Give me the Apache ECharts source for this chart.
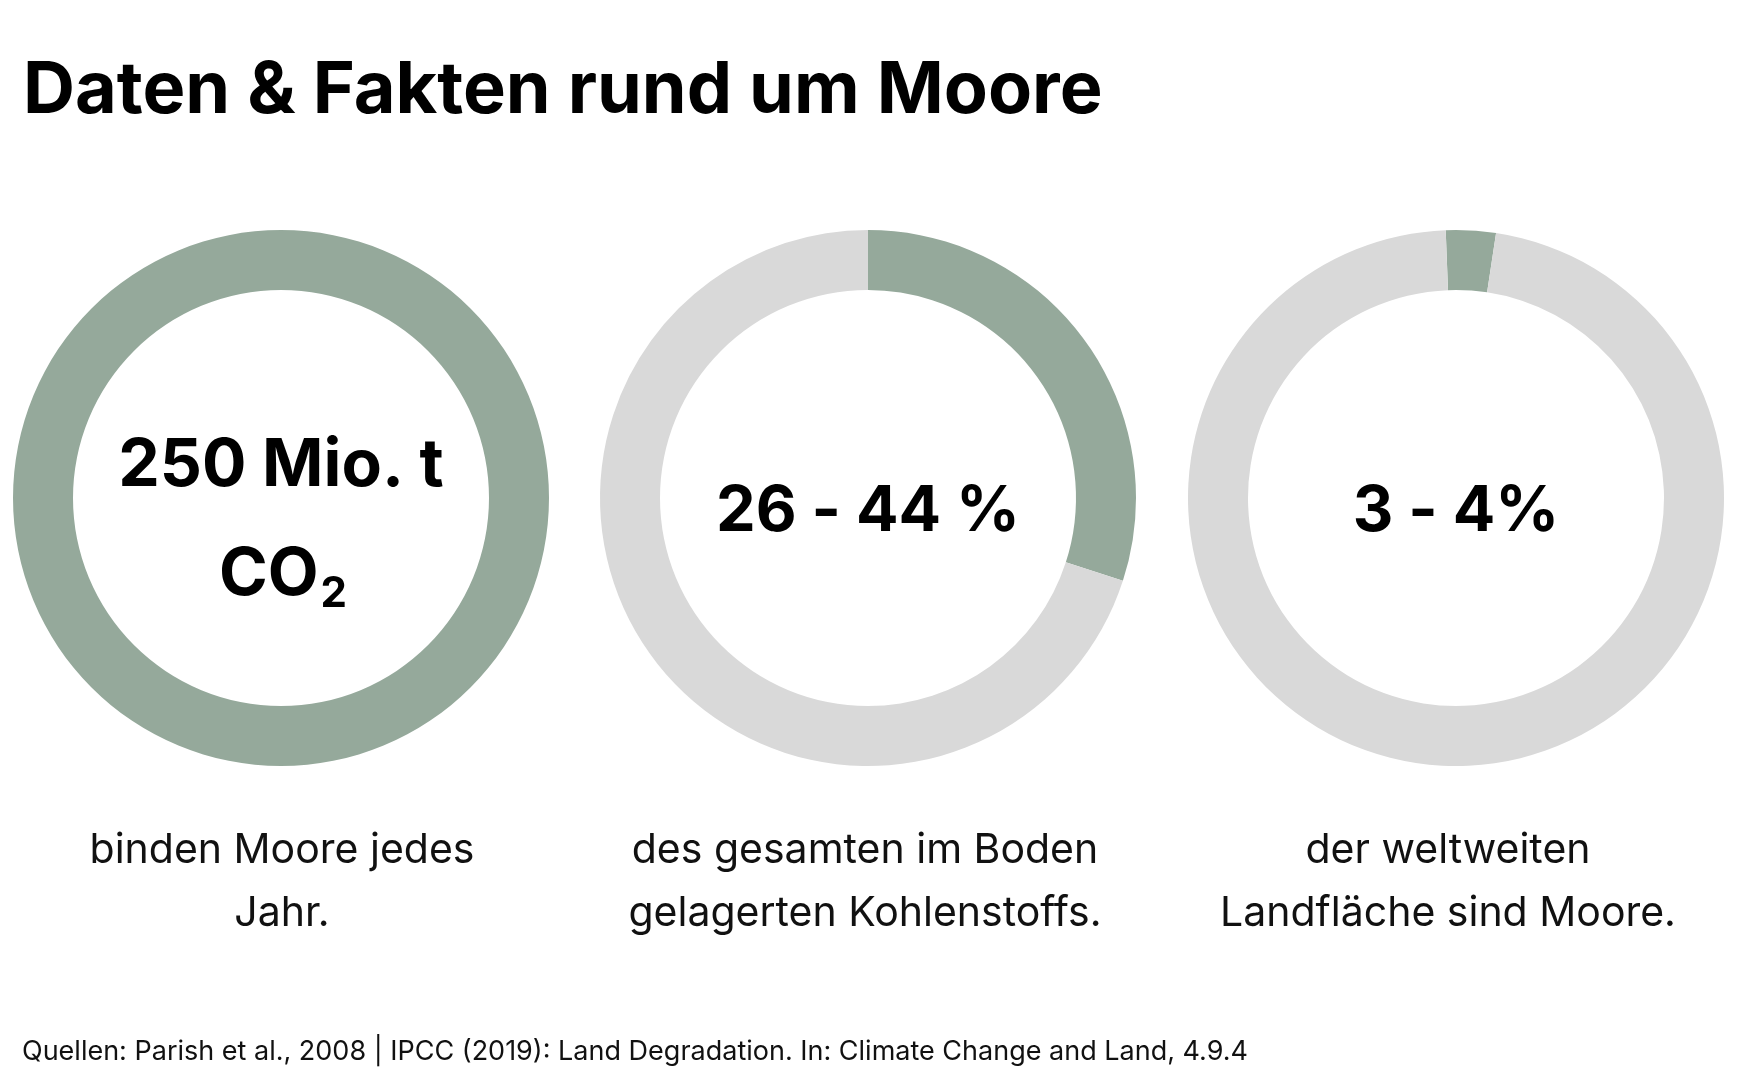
<!DOCTYPE html>
<html>
<head>
<meta charset="utf-8">
<script src="https://cdn.jsdelivr.net/npm/echarts@6/dist/echarts.min.js"></script>
<style>
  html, body { margin: 0; padding: 0; background: #fff; }
  #main { width: 1748px; height: 1091px; }
</style>
</head>
<body>
<div id="main"></div>
<script>
// 数据
var headline = 'Daten & Fakten rund um Moore';
var bigNumbers = ['250 Mio. t', '26 - 44 %', '3 - 4%'];
var shares = [100, 30, 3];
var captions = [
  ['binden Moore jedes', 'Jahr.'],
  ['des gesamten im Boden', 'gelagerten Kohlenstoffs.'],
  ['der weltweiten', 'Landfläche sind Moore.']
];
var source = 'Quellen: Parish et al., 2008 | IPCC (2019): Land Degradation. In: Climate Change and Land, 4.9.4';

(function () {
  var myChart = echarts.init(document.getElementById('main'));
  var font = 'Inter, "Noto Sans", sans-serif';
  var green = '#95a99b';
  var grey = '#d9d9d9';
  var centersX = [281, 868, 1456];
  var captionX = [282, 865, 1448];
  var centerY = 498;
  // 第三个环的起始角度稍微偏左
  var startAngles = [90, 90, 92.2];

  var series = shares.map(function (v, i) {
    return {
      type: 'pie',
      center: [centersX[i], centerY],
      radius: [208, 268],
      startAngle: startAngles[i],
      silent: true,
      label: { show: false },
      labelLine: { show: false },
      emphasis: { scale: false },
      data: [
        { value: v, itemStyle: { color: green } },
        { value: 100 - v, itemStyle: { color: grey } }
      ]
    };
  });

  var graphics = [];
  // 标题
  graphics.push({
    type: 'text', left: 23, top: 55,
    style: { text: headline, fill: '#000', font: '700 72px ' + font }
  });
  // 环中间的大字
  bigNumbers.forEach(function (t, i) {
    if (i === 0) {
      graphics.push({
        type: 'text', x: centersX[i], y: 466,
        style: { text: t, fill: '#000', font: '700 66px ' + font, align: 'center', verticalAlign: 'middle' }
      });
      graphics.push({
        type: 'text', x: centersX[i] + 2, y: 575,
        style: {
          text: '{a|CO}{b|2}',
          align: 'center', verticalAlign: 'middle',
          rich: {
            a: { fill: '#000', font: '700 66px ' + font },
            b: { fill: '#000', font: '700 42px ' + font, padding: [38, 0, 0, 2] }
          }
        }
      });
    } else {
      graphics.push({
        type: 'text', x: centersX[i], y: 512,
        style: { text: t, fill: '#000', font: '700 63px ' + font, align: 'center', verticalAlign: 'middle' }
      });
    }
  });
  // 说明文字
  captions.forEach(function (lines, i) {
    lines.forEach(function (line, j) {
      graphics.push({
        type: 'text', x: captionX[i], y: 851 + j * 63,
        style: { text: line, fill: '#111', font: '400 41px ' + font, align: 'center', verticalAlign: 'middle' }
      });
    });
  });
  // 来源
  graphics.push({
    type: 'text', x: 22, y: 1052,
    style: { text: source, fill: '#111', font: '400 27px ' + font, verticalAlign: 'middle' }
  });

  var option = {
    backgroundColor: '#fff',
    animation: false,
    series: series,
    graphic: graphics
  };
  myChart.setOption(option);
  window.addEventListener('resize', function () {
    myChart.resize();
  });
})();
</script>
</body>
</html>
